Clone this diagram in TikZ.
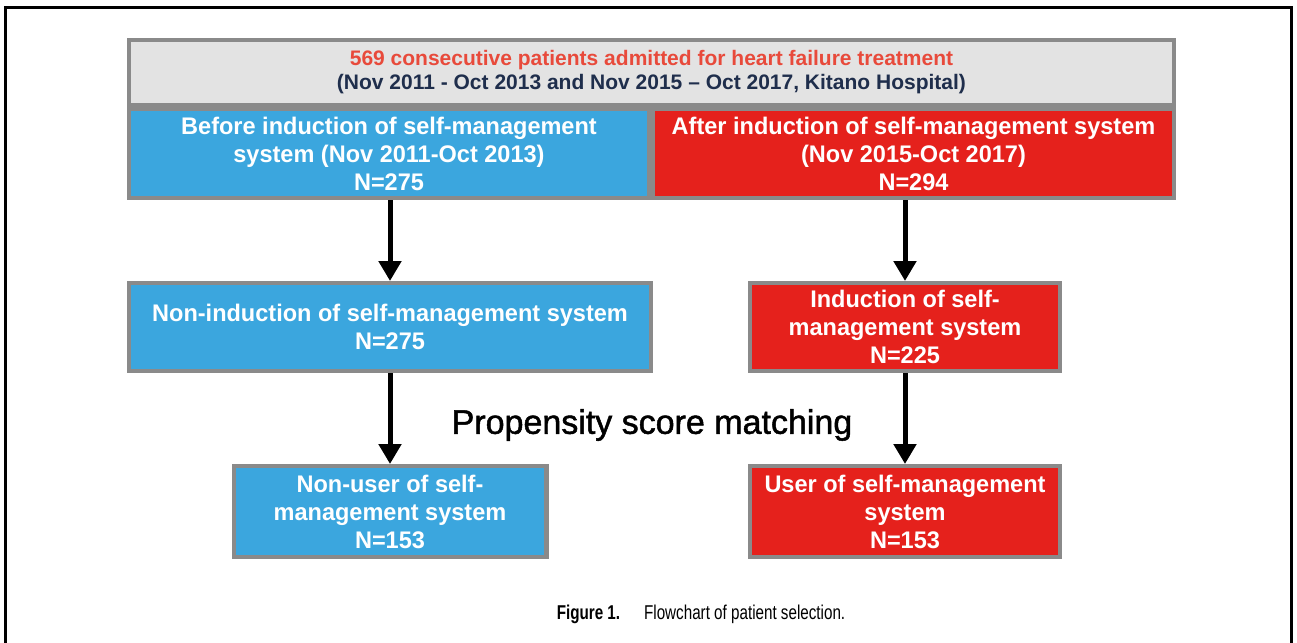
\documentclass[tikz,border=0pt]{standalone}
\usepackage{fontspec}
\setmainfont{Liberation Sans}
\newfontfamily\cajafont[FakeStretch=0.98]{Liberation Sans}
\newfontfamily\psmfont[FakeBold=1.4]{Liberation Sans}
\newfontfamily\capfont[FakeStretch=0.76]{Liberation Sans}
\usepackage{tikz}
\usetikzlibrary{arrows.meta,positioning}
\definecolor{grisborde}{rgb}{0.54,0.54,0.54}
\definecolor{grisclaro}{rgb}{0.89,0.89,0.89}
\definecolor{azulgrupo}{rgb}{0.23,0.65,0.87}
\definecolor{rojogrupo}{rgb}{0.90,0.13,0.11}
\definecolor{rojotexto}{rgb}{0.91,0.29,0.23}
\definecolor{azulnoche}{rgb}{0.12,0.18,0.30}
\tikzset{
  caja/.style={
    draw=grisborde,
    line width=2.2pt,
    align=center,
    inner sep=0pt,
    text=white,
    font=\cajafont\fontsize{12}{14}\selectfont\bfseries
  },
  cabecera/.style={
    caja,
    fill=grisclaro,
    minimum width=522.3pt,
    minimum height=32.3pt,
    font=\fontsize{10.5}{12}\selectfont\bfseries
  },
  azul/.style={caja,fill=azulgrupo},
  rojo/.style={caja,fill=rojogrupo},
  arrow/.style={
    -{Triangle[length=10pt,width=11pt]},
    line width=2.5pt,
    black
  }
}

\begin{document}
\begin{tikzpicture}[x=0.5pt,y=-0.5pt]
\useasboundingbox (0,0) rectangle (1297,643);
% marco de la figura
\draw[line width=1.5pt] (5.5,643) -- (5.5,7.5) -- (1291,7.5) -- (1291,643);
% cohorte completa y los dos periodos
\node[cabecera] (total) at (651.5,72.5) {\textcolor{rojotexto}{569 consecutive patients admitted for heart failure treatment}\\
  \textcolor{azulnoche}{(Nov 2011 - Oct 2013 and Nov 2015 -- Oct 2017, Kitano Hospital)}};
\node[azul,minimum width=259.8pt,minimum height=44.3pt,below right=0pt and 0pt of total.south west] (antes) {Before induction of self-management\\system (Nov 2011-Oct 2013)\\N=275};
\node[rojo,minimum width=260.3pt,minimum height=44.3pt,right=0pt of antes] (despues) {After induction of self-management system\\(Nov 2015-Oct 2017)\\N=294};
% induccion
\node[azul,minimum width=260.8pt,minimum height=43.8pt] (noind) at (390,327) {Non-induction of self-management system\\N=275};
\node[rojo,minimum width=154.8pt,minimum height=43.8pt] (ind) at (905,327) {Induction of self-\\management system\\N=225};
% tras el emparejamiento
\node[azul,minimum width=156.3pt,minimum height=45.3pt] (nouser) at (390,511.5) {Non-user of self-\\management system\\N=153};
\node[rojo,minimum width=154.8pt,minimum height=45.3pt] (user) at (905,511.5) {User of self-management\\system\\N=153};
\node[font=\psmfont\fontsize{17}{20}\selectfont] (psm) at (652,425) {Propensity score matching};
\node[font=\capfont\fontsize{10}{12}\selectfont] (pie) at (701,614) {{\bfseries Figure 1.}\hspace{12pt}Flowchart of patient selection.};
\draw[arrow] (noind.north |- antes.south) -- (noind.north);
\draw[arrow] (ind.north |- despues.south) -- (ind.north);
\draw[arrow] (nouser.north |- noind.south) -- (nouser.north);
\draw[arrow] (user.north |- ind.south) -- (user.north);
\end{tikzpicture}
\end{document}
